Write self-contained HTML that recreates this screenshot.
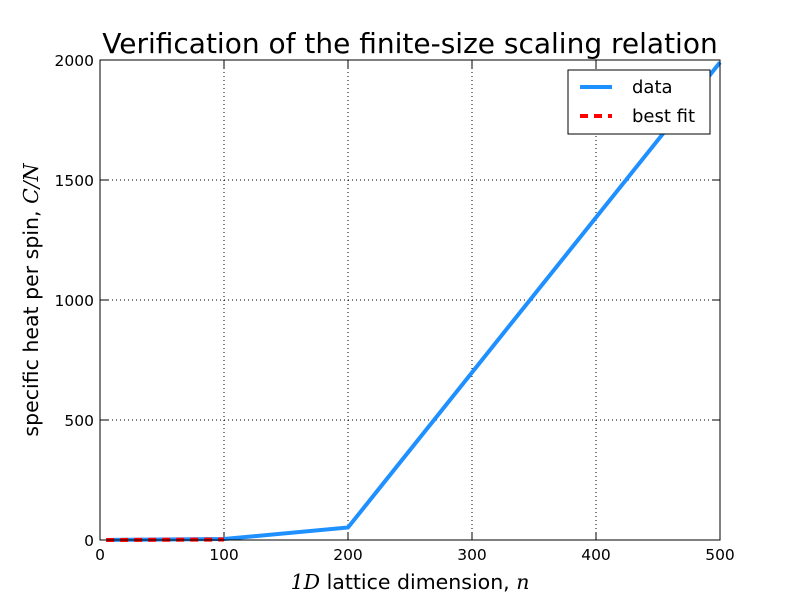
<!DOCTYPE html>
<html><head><meta charset="utf-8"><style>
body{margin:0;background:#fff;font-family:"DejaVu Sans","Liberation Sans",sans-serif}
</style></head><body>
<svg width="800" height="600" viewBox="0 0 800 600" font-family="DejaVu Sans, Liberation Sans, sans-serif">
<rect width="800" height="600" fill="#fff"/>
<g id="grid"></g>
<g id="marks"></g>
<rect x="100" y="60" width="620" height="480" fill="none" stroke="#000" stroke-width="1"/>
<g id="ticks" font-size="15.5"></g>
<text x="410" y="53" text-anchor="middle" font-size="28">Verification of the finite-size scaling relation</text>
<text x="410" y="589" text-anchor="middle" font-size="20.5"><tspan font-family="DejaVu Serif" font-style="italic">1D</tspan> lattice dimension, <tspan font-family="DejaVu Serif" font-style="italic">n</tspan></text>
<text transform="translate(38,300) rotate(-90)" text-anchor="middle" font-size="20.5">specific heat per spin, <tspan font-family="DejaVu Serif" font-style="italic">C/N</tspan></text>
<g>
<rect x="568" y="70" width="142" height="64" fill="#fff" stroke="#000"/>
<line x1="580" y1="87" x2="612" y2="87" stroke="#1e90ff" stroke-width="4"/>
<text x="632" y="93" font-size="18">data</text>
<line x1="580" y1="116" x2="612" y2="116" stroke="#f00" stroke-width="4" stroke-dasharray="8,6"/>
<text x="632" y="122" font-size="18">best fit</text>
</g>
</svg>
<script>
const nValues=[5,10,20,50,100,200,500];
const cValues=[0.1,0.3,0.8,2,4,52,1990];
const fitN=[5,100];
const fitC=[0,2];
const xTicks=[0,100,200,300,400,500];
const yTicks=[0,500,1000,1500,2000];
const NS="http://www.w3.org/2000/svg";
const sx=v=>100+v/500*620, sy=v=>540-v/2000*480;
const grid=document.getElementById('grid'),ticks=document.getElementById('ticks'),marks=document.getElementById('marks');
function mk(t,a,p){const e=document.createElementNS(NS,t);for(const k in a)e.setAttribute(k,a[k]);p.appendChild(e);return e;}
xTicks.forEach(v=>{const x=sx(v);
 if(v>0&&v<500){const g=mk('line',{x1:x,x2:x,y1:60,y2:540,stroke:'#000','stroke-dasharray':'1,3','stroke-width':1},grid);
 
 }
 mk('line',{x1:x,x2:x,y1:540,y2:532,stroke:'#000'},grid);
 mk('line',{x1:x,x2:x,y1:60,y2:68,stroke:'#000'},grid);
 const t=mk('text',{x:x,y:560,'text-anchor':'middle'},ticks);t.textContent=v;
 
 });
yTicks.forEach(v=>{const y=sy(v);
 if(v>0&&v<2000){const g=mk('line',{x1:100,x2:720,y1:y,y2:y,stroke:'#000','stroke-dasharray':'1,3','stroke-width':1},grid);
 
 }
 mk('line',{x1:100,x2:108,y1:y,y2:y,stroke:'#000'},grid);
 mk('line',{x1:712,x2:720,y1:y,y2:y,stroke:'#000'},grid);
 const t=mk('text',{x:94,y:y+6,'text-anchor':'end'},ticks);t.textContent=v;
 
 });
const d=mk('polyline',{points:nValues.map((n,i)=>sx(n)+','+sy(cValues[i])).join(' '),fill:'none',stroke:'#1e90ff','stroke-width':4},marks);


const f=mk('polyline',{points:fitN.map((n,i)=>sx(n)+','+sy(fitC[i])).join(' '),fill:'none',stroke:'#f00','stroke-width':4,'stroke-dasharray':'8,6'},marks);


</script>
</body></html>
